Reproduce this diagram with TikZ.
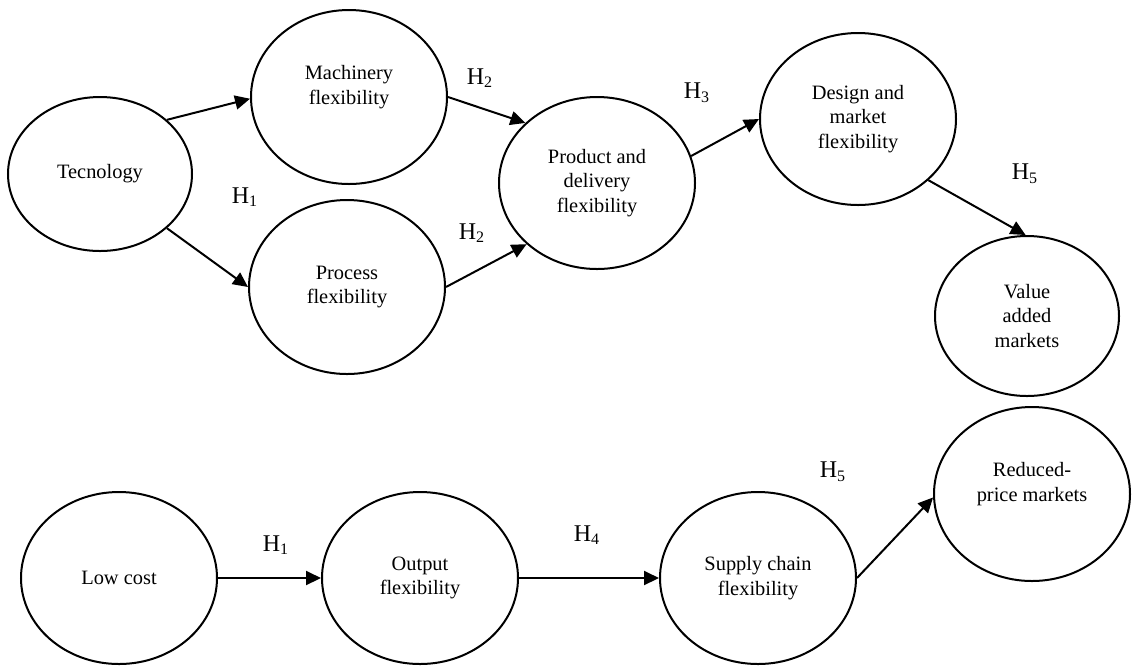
\documentclass[tikz,border=0pt]{standalone}
\usepackage{fontspec}
\setmainfont{Liberation Serif}
\usetikzlibrary{arrows.meta,shapes.geometric}
\tikzset{
  oval/.style={draw=black, line width=1pt, ellipse, inner sep=0pt, align=center,
    font=\fontsize{10.2}{12.2}\selectfont},
  conn/.style={draw=black, line width=1pt, -{Triangle[length=7.5pt,width=7pt]}},
  hyp/.style={font=\fontsize{12}{14}\selectfont, inner sep=0pt}
}
\begin{document}
\begin{tikzpicture}[x=0.5pt,y=-0.5pt]
\useasboundingbox (0,0) rectangle (1135,666);
% nodes
\node[oval, minimum width=92pt, minimum height=77pt] (tec) at (100,174) {Tecnology};
\node[oval, minimum width=98pt, minimum height=87pt] (mach) at (349,97) {Machinery\\flexibility\\~};
\node[oval, minimum width=98pt, minimum height=87pt] (proc) at (347,287) {Process\\flexibility};
\node[oval, minimum width=98pt, minimum height=86pt] (prod) at (597,183) {Product and\\delivery\\flexibility};
\node[oval, minimum width=98pt, minimum height=86pt] (des) at (858,119) {Design and\\market\\flexibility};
\node[oval, minimum width=92pt, minimum height=80pt] (val) at (1027,316) {Value\\added\\markets};
\node[oval, minimum width=98pt, minimum height=87pt] (red) at (1032,494) {Reduced-\\price markets\\~};
\node[oval, minimum width=98pt, minimum height=86pt] (low) at (119,578) {Low cost};
\node[oval, minimum width=98pt, minimum height=86pt] (out) at (420,578) {Output\\flexibility};
\node[oval, minimum width=98pt, minimum height=86pt] (sup) at (758,578) {Supply chain\\flexibility};
% hypothesis labels
\node[hyp] (h1a) at (245,197) {H\textsubscript{1}};
\node[hyp] (h2a) at (480,78) {H\textsubscript{2}};
\node[hyp] (h2b) at (472,233) {H\textsubscript{2}};
\node[hyp] (h3) at (697,93) {H\textsubscript{3}};
\node[hyp] (h5a) at (1025,174) {H\textsubscript{5}};
\node[hyp] (h1b) at (276,545) {H\textsubscript{1}};
\node[hyp] (h4) at (587,535) {H\textsubscript{4}};
\node[hyp] (h5b) at (833,472) {H\textsubscript{5}};
% connectors
\draw[conn] (tec.39) -- (mach.181);
\draw[conn] (tec.321) -- (proc.180);
\draw[conn] (mach.0) -- (prod.140);
\draw[conn] (proc.0) -- (prod.221);
\draw[conn] (prod.16) -- (des.180);
\draw[conn] (des.319) -- (val.91);
\draw[conn] (low) -- (out);
\draw[conn] (out) -- (sup);
\draw[conn] (sup.0) -- (red.182);
\end{tikzpicture}
\end{document}
